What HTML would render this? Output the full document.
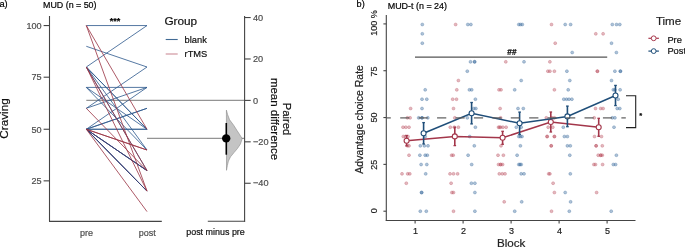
<!DOCTYPE html>
<html><head><meta charset="utf-8"><style>
html,body{margin:0;padding:0;background:#fff;}
body{width:685px;height:247px;overflow:hidden;}
svg{display:block;font-family:"Liberation Sans", sans-serif;will-change:transform;}
</style></head><body>
<svg width="685" height="247" viewBox="0 0 685 247">
<text x="-0.6" y="6.8" font-size="9.3" fill="#000" text-anchor="start" font-weight="normal" stroke="#000" stroke-width="0.2">a)</text>
<text x="43.0" y="7.5" font-size="8.9" fill="#000" text-anchor="start" font-weight="normal" stroke="#000" stroke-width="0.2">MUD (n = 50)</text>
<line x1="49.5" y1="16.0" x2="49.5" y2="221.5" stroke="#444" stroke-width="1.1"/>
<line x1="49" y1="221.4" x2="161.8" y2="221.4" stroke="#444" stroke-width="1.1"/>
<line x1="43.6" y1="25.56" x2="49.5" y2="25.56" stroke="#444" stroke-width="1.1"/>
<text x="41.6" y="28.81" font-size="9.1" fill="#4d4d4d" text-anchor="end" font-weight="normal" stroke="#4d4d4d" stroke-width="0.2">100</text>
<line x1="43.6" y1="77.20" x2="49.5" y2="77.20" stroke="#444" stroke-width="1.1"/>
<text x="41.6" y="80.45" font-size="9.1" fill="#4d4d4d" text-anchor="end" font-weight="normal" stroke="#4d4d4d" stroke-width="0.2">75</text>
<line x1="43.6" y1="129.25" x2="49.5" y2="129.25" stroke="#444" stroke-width="1.1"/>
<text x="41.6" y="132.5" font-size="9.1" fill="#4d4d4d" text-anchor="end" font-weight="normal" stroke="#4d4d4d" stroke-width="0.2">50</text>
<line x1="43.6" y1="180.85" x2="49.5" y2="180.85" stroke="#444" stroke-width="1.1"/>
<text x="41.6" y="184.1" font-size="9.1" fill="#4d4d4d" text-anchor="end" font-weight="normal" stroke="#4d4d4d" stroke-width="0.2">25</text>
<text x="0" y="0" font-size="11.7" fill="#111" text-anchor="middle" font-weight="normal" stroke="#111" stroke-width="0.2" transform="translate(8.3,118.5) rotate(-90)">Craving</text>
<text x="86.4" y="235.8" font-size="9" fill="#4d4d4d" text-anchor="middle" font-weight="normal" stroke="#4d4d4d" stroke-width="0.2">pre</text>
<text x="147.2" y="235.8" font-size="9" fill="#4d4d4d" text-anchor="middle" font-weight="normal" stroke="#4d4d4d" stroke-width="0.2">post</text>
<line x1="86.3" y1="100.3" x2="244.6" y2="100.3" stroke="#6a6a6a" stroke-width="0.9"/>
<line x1="147.0" y1="138.3" x2="244.6" y2="138.3" stroke="#6a6a6a" stroke-width="0.9"/>
<line x1="86.3" y1="25.56" x2="147.0" y2="25.56" stroke="#2f5a8e" stroke-width="0.95" stroke-opacity="0.86"/>
<line x1="86.3" y1="46.30" x2="147.0" y2="67.00" stroke="#2f5a8e" stroke-width="0.95" stroke-opacity="0.86"/>
<line x1="86.3" y1="67.00" x2="147.0" y2="25.56" stroke="#2f5a8e" stroke-width="0.95" stroke-opacity="0.86"/>
<line x1="86.3" y1="67.00" x2="147.0" y2="170.60" stroke="#2f5a8e" stroke-width="0.95" stroke-opacity="0.86"/>
<line x1="86.3" y1="67.00" x2="147.0" y2="150.00" stroke="#2f5a8e" stroke-width="0.95" stroke-opacity="0.86"/>
<line x1="86.3" y1="67.00" x2="147.0" y2="129.25" stroke="#2f5a8e" stroke-width="0.95" stroke-opacity="0.86"/>
<line x1="86.3" y1="67.00" x2="147.0" y2="129.25" stroke="#2f5a8e" stroke-width="0.95" stroke-opacity="0.86"/>
<line x1="86.3" y1="87.40" x2="147.0" y2="87.40" stroke="#2f5a8e" stroke-width="0.95" stroke-opacity="0.86"/>
<line x1="86.3" y1="87.40" x2="147.0" y2="150.00" stroke="#2f5a8e" stroke-width="0.95" stroke-opacity="0.86"/>
<line x1="86.3" y1="87.40" x2="147.0" y2="129.25" stroke="#2f5a8e" stroke-width="0.95" stroke-opacity="0.86"/>
<line x1="86.3" y1="108.30" x2="147.0" y2="67.00" stroke="#2f5a8e" stroke-width="0.95" stroke-opacity="0.86"/>
<line x1="86.3" y1="108.30" x2="147.0" y2="87.40" stroke="#2f5a8e" stroke-width="0.95" stroke-opacity="0.86"/>
<line x1="86.3" y1="129.25" x2="147.0" y2="108.30" stroke="#2f5a8e" stroke-width="0.95" stroke-opacity="0.86"/>
<line x1="86.3" y1="129.25" x2="147.0" y2="108.30" stroke="#2f5a8e" stroke-width="0.95" stroke-opacity="0.86"/>
<line x1="86.3" y1="129.25" x2="147.0" y2="87.40" stroke="#2f5a8e" stroke-width="0.95" stroke-opacity="0.86"/>
<line x1="86.3" y1="129.25" x2="147.0" y2="129.25" stroke="#2f5a8e" stroke-width="0.95" stroke-opacity="0.86"/>
<line x1="86.3" y1="129.25" x2="147.0" y2="129.25" stroke="#2f5a8e" stroke-width="0.95" stroke-opacity="0.86"/>
<line x1="86.3" y1="129.25" x2="147.0" y2="191.10" stroke="#363f74" stroke-width="0.95" stroke-opacity="0.86"/>
<line x1="86.3" y1="129.25" x2="147.0" y2="191.10" stroke="#363f74" stroke-width="0.95" stroke-opacity="0.86"/>
<line x1="86.3" y1="129.25" x2="147.0" y2="191.10" stroke="#363f74" stroke-width="0.95" stroke-opacity="0.86"/>
<line x1="86.3" y1="129.25" x2="147.0" y2="170.60" stroke="#363f74" stroke-width="0.95" stroke-opacity="0.86"/>
<line x1="86.3" y1="129.25" x2="147.0" y2="170.60" stroke="#363f74" stroke-width="0.95" stroke-opacity="0.86"/>
<line x1="86.3" y1="129.25" x2="147.0" y2="170.60" stroke="#363f74" stroke-width="0.95" stroke-opacity="0.86"/>
<line x1="86.3" y1="25.56" x2="147.0" y2="191.10" stroke="#9a3444" stroke-width="0.95" stroke-opacity="0.86"/>
<line x1="86.3" y1="25.56" x2="147.0" y2="129.25" stroke="#9a3444" stroke-width="0.95" stroke-opacity="0.86"/>
<line x1="86.3" y1="67.00" x2="147.0" y2="191.10" stroke="#9a3444" stroke-width="0.95" stroke-opacity="0.86"/>
<line x1="86.3" y1="67.00" x2="147.0" y2="170.60" stroke="#9a3444" stroke-width="0.95" stroke-opacity="0.86"/>
<line x1="86.3" y1="108.30" x2="147.0" y2="170.60" stroke="#9a3444" stroke-width="0.95" stroke-opacity="0.86"/>
<line x1="86.3" y1="129.25" x2="147.0" y2="150.00" stroke="#9a3444" stroke-width="0.95" stroke-opacity="0.86"/>
<line x1="86.3" y1="129.25" x2="147.0" y2="150.00" stroke="#9a3444" stroke-width="0.95" stroke-opacity="0.86"/>
<line x1="86.3" y1="129.25" x2="147.0" y2="211.60" stroke="#9a3444" stroke-width="0.95" stroke-opacity="0.86"/>
<text x="115.1" y="23.6" font-size="9" fill="#000" text-anchor="middle" font-weight="bold" stroke="#000" stroke-width="0.2">***</text>
<text x="164.4" y="24.8" font-size="11.8" fill="#111" text-anchor="start" font-weight="normal" stroke="#111" stroke-width="0.2">Group</text>
<line x1="165.7" y1="39.5" x2="177.7" y2="39.5" stroke="#416a94" stroke-width="1.1"/>
<line x1="165.7" y1="54.0" x2="177.7" y2="54.0" stroke="#dcb0b8" stroke-width="1.6"/>
<text x="184.6" y="42.8" font-size="9.3" fill="#111" text-anchor="start" font-weight="normal" stroke="#111" stroke-width="0.2">blank</text>
<text x="184.6" y="56.6" font-size="9.3" fill="#111" text-anchor="start" font-weight="normal" stroke="#111" stroke-width="0.2">rTMS</text>
<line x1="244.6" y1="16.1" x2="244.6" y2="221.8" stroke="#444" stroke-width="1.1"/>
<line x1="207.8" y1="221.3" x2="245.1" y2="221.3" stroke="#444" stroke-width="1.1"/>
<line x1="244.6" y1="17.54" x2="250.7" y2="17.54" stroke="#444" stroke-width="1.1"/>
<text x="253.0" y="20.640000000000008" font-size="9.2" fill="#4d4d4d" text-anchor="start" font-weight="normal" stroke="#4d4d4d" stroke-width="0.2">40</text>
<line x1="244.6" y1="58.97" x2="250.7" y2="58.97" stroke="#444" stroke-width="1.1"/>
<text x="253.0" y="62.07000000000001" font-size="9.2" fill="#4d4d4d" text-anchor="start" font-weight="normal" stroke="#4d4d4d" stroke-width="0.2">20</text>
<line x1="244.6" y1="100.40" x2="250.7" y2="100.40" stroke="#444" stroke-width="1.1"/>
<text x="253.0" y="103.5" font-size="9.2" fill="#4d4d4d" text-anchor="start" font-weight="normal" stroke="#4d4d4d" stroke-width="0.2">0</text>
<line x1="244.6" y1="141.83" x2="250.7" y2="141.83" stroke="#444" stroke-width="1.1"/>
<text x="253.0" y="144.93" font-size="9.2" fill="#4d4d4d" text-anchor="start" font-weight="normal" stroke="#4d4d4d" stroke-width="0.2">−20</text>
<line x1="244.6" y1="183.26" x2="250.7" y2="183.26" stroke="#444" stroke-width="1.1"/>
<text x="253.0" y="186.35999999999999" font-size="9.2" fill="#4d4d4d" text-anchor="start" font-weight="normal" stroke="#4d4d4d" stroke-width="0.2">−40</text>
<text font-size="11.3" fill="#111" stroke="#111" stroke-width="0.2" text-anchor="middle" transform="translate(283.3,119) rotate(90)"><tspan x="0" y="0">Paired</tspan><tspan x="0" y="12.7" font-size="11.5">mean difference</tspan></text>
<text x="215.5" y="235.3" font-size="8.95" fill="#111" text-anchor="middle" font-weight="normal" stroke="#111" stroke-width="0.2">post minus pre</text>
<path d="M226.4,110.1 L227.5,114.3 L229.6,119.8 L233.7,125.3 L237.2,130.8 L239.9,134.9 L242,138.4 L241.8,139.8 L240.4,144.1 L237.6,148.3 L234,152.6 L230.5,156.8 L228.4,161.1 L227.4,165.3 L226.5,170.3 Z" fill="#c4c4c4" stroke="#8a8a8a" stroke-width="0.6"/>
<line x1="226.3" y1="123" x2="226.3" y2="154.7" stroke="#000" stroke-width="1.6"/>
<circle cx="226.2" cy="138.4" r="4.2" fill="#000"/>
<text x="356.6" y="6.7" font-size="9.2" fill="#000" text-anchor="start" font-weight="normal" stroke="#000" stroke-width="0.2">b)</text>
<text x="387.7" y="8.8" font-size="8.95" fill="#000" text-anchor="start" font-weight="normal" stroke="#000" stroke-width="0.2">MUD-t (n = 24)</text>
<line x1="386.3" y1="14.9" x2="386.3" y2="221" stroke="#444" stroke-width="1.1"/>
<line x1="385.8" y1="220.5" x2="635.5" y2="220.5" stroke="#444" stroke-width="1.1"/>
<line x1="383.4" y1="23.90" x2="386.3" y2="23.90" stroke="#444" stroke-width="1.1"/>
<text x="0" y="0" font-size="9" fill="#222" text-anchor="middle" font-weight="normal" stroke="#222" stroke-width="0.2" transform="translate(377.2,22.90) rotate(-90)">100 %</text>
<line x1="383.4" y1="70.72" x2="386.3" y2="70.72" stroke="#444" stroke-width="1.1"/>
<text x="0" y="0" font-size="9" fill="#222" text-anchor="middle" font-weight="normal" stroke="#222" stroke-width="0.2" transform="translate(377.2,71.52) rotate(-90)">75</text>
<line x1="383.4" y1="117.55" x2="386.3" y2="117.55" stroke="#444" stroke-width="1.1"/>
<text x="0" y="0" font-size="9" fill="#222" text-anchor="middle" font-weight="normal" stroke="#222" stroke-width="0.2" transform="translate(377.2,117.55) rotate(-90)">50</text>
<line x1="383.4" y1="164.38" x2="386.3" y2="164.38" stroke="#444" stroke-width="1.1"/>
<text x="0" y="0" font-size="9" fill="#222" text-anchor="middle" font-weight="normal" stroke="#222" stroke-width="0.2" transform="translate(377.2,164.78) rotate(-90)">25</text>
<line x1="383.4" y1="211.20" x2="386.3" y2="211.20" stroke="#444" stroke-width="1.1"/>
<text x="0" y="0" font-size="9" fill="#222" text-anchor="middle" font-weight="normal" stroke="#222" stroke-width="0.2" transform="translate(377.2,210.70) rotate(-90)">0</text>
<line x1="415.1" y1="220.5" x2="415.1" y2="223.4" stroke="#444" stroke-width="1.1"/>
<text x="415.40000000000003" y="233.5" font-size="9" fill="#222" text-anchor="middle" font-weight="normal" stroke="#222" stroke-width="0.2">1</text>
<line x1="463.1" y1="220.5" x2="463.1" y2="223.4" stroke="#444" stroke-width="1.1"/>
<text x="463.40000000000003" y="233.5" font-size="9" fill="#222" text-anchor="middle" font-weight="normal" stroke="#222" stroke-width="0.2">2</text>
<line x1="511.1" y1="220.5" x2="511.1" y2="223.4" stroke="#444" stroke-width="1.1"/>
<text x="511.40000000000003" y="233.5" font-size="9" fill="#222" text-anchor="middle" font-weight="normal" stroke="#222" stroke-width="0.2">3</text>
<line x1="559.1" y1="220.5" x2="559.1" y2="223.4" stroke="#444" stroke-width="1.1"/>
<text x="559.4" y="233.5" font-size="9" fill="#222" text-anchor="middle" font-weight="normal" stroke="#222" stroke-width="0.2">4</text>
<line x1="607.1" y1="220.5" x2="607.1" y2="223.4" stroke="#444" stroke-width="1.1"/>
<text x="607.4" y="233.5" font-size="9" fill="#222" text-anchor="middle" font-weight="normal" stroke="#222" stroke-width="0.2">5</text>
<text x="511.2" y="246.5" font-size="11.6" fill="#222" text-anchor="middle" font-weight="normal" stroke="#222" stroke-width="0.2">Block</text>
<text x="0" y="0" font-size="10.5" fill="#222" text-anchor="middle" font-weight="normal" stroke="#222" stroke-width="0.2" transform="translate(363.1,119.4) rotate(-90)">Advantage choice Rate</text>
<line x1="415" y1="57.1" x2="607.2" y2="57.1" stroke="#555" stroke-width="1.2"/>
<text x="511.9" y="54.6" font-size="8.2" fill="#000" text-anchor="middle" font-weight="bold" stroke="#000" stroke-width="0.2">##</text>
<path d="M626,95.7 L635.7,95.7 L635.7,127.6 L626,127.6" fill="none" stroke="#222" stroke-width="1.1"/>
<text x="640.7" y="117.6" font-size="7.5" fill="#000" text-anchor="middle" font-weight="bold" stroke="#000" stroke-width="0.2">*</text>
<text x="655.9" y="24.6" font-size="11.6" fill="#222" text-anchor="start" font-weight="normal" stroke="#222" stroke-width="0.2">Time</text>
<line x1="648.4" y1="38.3" x2="658.9" y2="38.3" stroke="#a8394d" stroke-width="1.2"/>
<circle cx="653.7" cy="38.3" r="2.4" fill="#fff" stroke="#a8394d" stroke-width="1"/>
<line x1="648.4" y1="51.1" x2="658.9" y2="51.1" stroke="#1f4e79" stroke-width="1.2"/>
<circle cx="653.7" cy="51.1" r="2.4" fill="#fff" stroke="#1f4e79" stroke-width="1"/>
<text x="667.4" y="42.9" font-size="9.3" fill="#111" text-anchor="start" font-weight="normal" stroke="#111" stroke-width="0.2">Pre</text>
<text x="667.4" y="53.6" font-size="9.3" fill="#111" text-anchor="start" font-weight="normal" stroke="#111" stroke-width="0.2">Post</text>
<circle cx="422.3" cy="24.50" r="1.5" fill="#37699b" fill-opacity="0.4" stroke="#37699b" stroke-opacity="0.42" stroke-width="0.7"/>
<circle cx="467.8" cy="24.50" r="1.5" fill="#37699b" fill-opacity="0.4" stroke="#37699b" stroke-opacity="0.42" stroke-width="0.7"/>
<circle cx="470.9" cy="24.50" r="1.5" fill="#37699b" fill-opacity="0.4" stroke="#37699b" stroke-opacity="0.42" stroke-width="0.7"/>
<circle cx="455.6" cy="24.50" r="1.5" fill="#b9505f" fill-opacity="0.4" stroke="#b9505f" stroke-opacity="0.42" stroke-width="0.7"/>
<circle cx="422.3" cy="33.83" r="1.5" fill="#37699b" fill-opacity="0.4" stroke="#37699b" stroke-opacity="0.42" stroke-width="0.7"/>
<circle cx="422.3" cy="43.17" r="1.5" fill="#37699b" fill-opacity="0.4" stroke="#37699b" stroke-opacity="0.42" stroke-width="0.7"/>
<circle cx="470.5" cy="61.84" r="1.5" fill="#37699b" fill-opacity="0.4" stroke="#37699b" stroke-opacity="0.42" stroke-width="0.7"/>
<circle cx="474.6" cy="61.84" r="1.5" fill="#37699b" fill-opacity="0.4" stroke="#37699b" stroke-opacity="0.42" stroke-width="0.7"/>
<circle cx="474.6" cy="61.84" r="1.5" fill="#37699b" fill-opacity="0.4" stroke="#37699b" stroke-opacity="0.42" stroke-width="0.7"/>
<circle cx="467.3" cy="71.17" r="1.5" fill="#37699b" fill-opacity="0.4" stroke="#37699b" stroke-opacity="0.42" stroke-width="0.7"/>
<circle cx="458.4" cy="80.51" r="1.5" fill="#b9505f" fill-opacity="0.4" stroke="#b9505f" stroke-opacity="0.42" stroke-width="0.7"/>
<circle cx="425.2" cy="89.84" r="1.5" fill="#37699b" fill-opacity="0.4" stroke="#37699b" stroke-opacity="0.42" stroke-width="0.7"/>
<circle cx="469.4" cy="89.84" r="1.5" fill="#37699b" fill-opacity="0.4" stroke="#37699b" stroke-opacity="0.42" stroke-width="0.7"/>
<circle cx="471.7" cy="89.84" r="1.5" fill="#37699b" fill-opacity="0.4" stroke="#37699b" stroke-opacity="0.42" stroke-width="0.7"/>
<circle cx="456.8" cy="89.84" r="1.5" fill="#b9505f" fill-opacity="0.4" stroke="#b9505f" stroke-opacity="0.42" stroke-width="0.7"/>
<circle cx="422" cy="99.18" r="1.5" fill="#37699b" fill-opacity="0.4" stroke="#37699b" stroke-opacity="0.42" stroke-width="0.7"/>
<circle cx="426.8" cy="99.18" r="1.5" fill="#37699b" fill-opacity="0.4" stroke="#37699b" stroke-opacity="0.42" stroke-width="0.7"/>
<circle cx="475.4" cy="99.18" r="1.5" fill="#37699b" fill-opacity="0.4" stroke="#37699b" stroke-opacity="0.42" stroke-width="0.7"/>
<circle cx="452.7" cy="99.18" r="1.5" fill="#b9505f" fill-opacity="0.4" stroke="#b9505f" stroke-opacity="0.42" stroke-width="0.7"/>
<circle cx="456.5" cy="99.18" r="1.5" fill="#b9505f" fill-opacity="0.4" stroke="#b9505f" stroke-opacity="0.42" stroke-width="0.7"/>
<circle cx="410.6" cy="108.51" r="1.5" fill="#b9505f" fill-opacity="0.4" stroke="#b9505f" stroke-opacity="0.42" stroke-width="0.7"/>
<circle cx="453.5" cy="108.51" r="1.5" fill="#b9505f" fill-opacity="0.4" stroke="#b9505f" stroke-opacity="0.42" stroke-width="0.7"/>
<circle cx="422" cy="108.51" r="1.5" fill="#37699b" fill-opacity="0.4" stroke="#37699b" stroke-opacity="0.42" stroke-width="0.7"/>
<circle cx="473.8" cy="108.51" r="1.5" fill="#37699b" fill-opacity="0.4" stroke="#37699b" stroke-opacity="0.42" stroke-width="0.7"/>
<circle cx="475.9" cy="108.51" r="1.5" fill="#37699b" fill-opacity="0.4" stroke="#37699b" stroke-opacity="0.42" stroke-width="0.7"/>
<circle cx="407.4" cy="117.85" r="1.5" fill="#b9505f" fill-opacity="0.4" stroke="#b9505f" stroke-opacity="0.42" stroke-width="0.7"/>
<circle cx="410.1" cy="117.85" r="1.5" fill="#b9505f" fill-opacity="0.4" stroke="#b9505f" stroke-opacity="0.42" stroke-width="0.7"/>
<circle cx="454.8" cy="117.85" r="1.5" fill="#b9505f" fill-opacity="0.4" stroke="#b9505f" stroke-opacity="0.42" stroke-width="0.7"/>
<circle cx="418.7" cy="117.85" r="1.5" fill="#37699b" fill-opacity="0.4" stroke="#37699b" stroke-opacity="0.42" stroke-width="0.7"/>
<circle cx="422" cy="117.85" r="1.5" fill="#37699b" fill-opacity="0.4" stroke="#37699b" stroke-opacity="0.42" stroke-width="0.7"/>
<circle cx="422" cy="117.85" r="1.5" fill="#37699b" fill-opacity="0.4" stroke="#37699b" stroke-opacity="0.42" stroke-width="0.7"/>
<circle cx="427.8" cy="117.85" r="1.5" fill="#37699b" fill-opacity="0.4" stroke="#37699b" stroke-opacity="0.42" stroke-width="0.7"/>
<circle cx="467.3" cy="117.85" r="1.5" fill="#37699b" fill-opacity="0.4" stroke="#37699b" stroke-opacity="0.42" stroke-width="0.7"/>
<circle cx="403" cy="127.18" r="1.5" fill="#b9505f" fill-opacity="0.4" stroke="#b9505f" stroke-opacity="0.42" stroke-width="0.7"/>
<circle cx="405.8" cy="127.18" r="1.5" fill="#b9505f" fill-opacity="0.4" stroke="#b9505f" stroke-opacity="0.42" stroke-width="0.7"/>
<circle cx="409" cy="127.18" r="1.5" fill="#b9505f" fill-opacity="0.4" stroke="#b9505f" stroke-opacity="0.42" stroke-width="0.7"/>
<circle cx="450.3" cy="127.18" r="1.5" fill="#b9505f" fill-opacity="0.4" stroke="#b9505f" stroke-opacity="0.42" stroke-width="0.7"/>
<circle cx="454.3" cy="127.18" r="1.5" fill="#b9505f" fill-opacity="0.4" stroke="#b9505f" stroke-opacity="0.42" stroke-width="0.7"/>
<circle cx="458.4" cy="127.18" r="1.5" fill="#b9505f" fill-opacity="0.4" stroke="#b9505f" stroke-opacity="0.42" stroke-width="0.7"/>
<circle cx="475.4" cy="127.18" r="1.5" fill="#37699b" fill-opacity="0.4" stroke="#37699b" stroke-opacity="0.42" stroke-width="0.7"/>
<circle cx="403.3" cy="136.52" r="1.5" fill="#b9505f" fill-opacity="0.4" stroke="#b9505f" stroke-opacity="0.42" stroke-width="0.7"/>
<circle cx="405.5" cy="136.52" r="1.5" fill="#b9505f" fill-opacity="0.4" stroke="#b9505f" stroke-opacity="0.42" stroke-width="0.7"/>
<circle cx="408" cy="136.52" r="1.5" fill="#b9505f" fill-opacity="0.4" stroke="#b9505f" stroke-opacity="0.42" stroke-width="0.7"/>
<circle cx="425.2" cy="136.52" r="1.5" fill="#37699b" fill-opacity="0.4" stroke="#37699b" stroke-opacity="0.42" stroke-width="0.7"/>
<circle cx="469.7" cy="136.52" r="1.5" fill="#37699b" fill-opacity="0.4" stroke="#37699b" stroke-opacity="0.42" stroke-width="0.7"/>
<circle cx="407.4" cy="145.85" r="1.5" fill="#b9505f" fill-opacity="0.4" stroke="#b9505f" stroke-opacity="0.42" stroke-width="0.7"/>
<circle cx="409" cy="145.85" r="1.5" fill="#b9505f" fill-opacity="0.4" stroke="#b9505f" stroke-opacity="0.42" stroke-width="0.7"/>
<circle cx="420.3" cy="145.85" r="1.5" fill="#37699b" fill-opacity="0.4" stroke="#37699b" stroke-opacity="0.42" stroke-width="0.7"/>
<circle cx="424.4" cy="145.85" r="1.5" fill="#37699b" fill-opacity="0.4" stroke="#37699b" stroke-opacity="0.42" stroke-width="0.7"/>
<circle cx="428" cy="145.85" r="1.5" fill="#37699b" fill-opacity="0.4" stroke="#37699b" stroke-opacity="0.42" stroke-width="0.7"/>
<circle cx="474.3" cy="145.85" r="1.5" fill="#37699b" fill-opacity="0.4" stroke="#37699b" stroke-opacity="0.42" stroke-width="0.7"/>
<circle cx="409" cy="155.19" r="1.5" fill="#b9505f" fill-opacity="0.4" stroke="#b9505f" stroke-opacity="0.42" stroke-width="0.7"/>
<circle cx="451.6" cy="155.19" r="1.5" fill="#b9505f" fill-opacity="0.4" stroke="#b9505f" stroke-opacity="0.42" stroke-width="0.7"/>
<circle cx="453.2" cy="155.19" r="1.5" fill="#b9505f" fill-opacity="0.4" stroke="#b9505f" stroke-opacity="0.42" stroke-width="0.7"/>
<circle cx="419.9" cy="155.19" r="1.5" fill="#37699b" fill-opacity="0.4" stroke="#37699b" stroke-opacity="0.42" stroke-width="0.7"/>
<circle cx="425.2" cy="155.19" r="1.5" fill="#37699b" fill-opacity="0.4" stroke="#37699b" stroke-opacity="0.42" stroke-width="0.7"/>
<circle cx="427.3" cy="155.19" r="1.5" fill="#37699b" fill-opacity="0.4" stroke="#37699b" stroke-opacity="0.42" stroke-width="0.7"/>
<circle cx="468.1" cy="155.19" r="1.5" fill="#37699b" fill-opacity="0.4" stroke="#37699b" stroke-opacity="0.42" stroke-width="0.7"/>
<circle cx="421.1" cy="164.52" r="1.5" fill="#37699b" fill-opacity="0.4" stroke="#37699b" stroke-opacity="0.42" stroke-width="0.7"/>
<circle cx="426.8" cy="164.52" r="1.5" fill="#37699b" fill-opacity="0.4" stroke="#37699b" stroke-opacity="0.42" stroke-width="0.7"/>
<circle cx="471.7" cy="164.52" r="1.5" fill="#37699b" fill-opacity="0.4" stroke="#37699b" stroke-opacity="0.42" stroke-width="0.7"/>
<circle cx="402" cy="173.86" r="1.5" fill="#b9505f" fill-opacity="0.4" stroke="#b9505f" stroke-opacity="0.42" stroke-width="0.7"/>
<circle cx="407.7" cy="173.86" r="1.5" fill="#b9505f" fill-opacity="0.4" stroke="#b9505f" stroke-opacity="0.42" stroke-width="0.7"/>
<circle cx="409.8" cy="173.86" r="1.5" fill="#b9505f" fill-opacity="0.4" stroke="#b9505f" stroke-opacity="0.42" stroke-width="0.7"/>
<circle cx="450" cy="173.86" r="1.5" fill="#b9505f" fill-opacity="0.4" stroke="#b9505f" stroke-opacity="0.42" stroke-width="0.7"/>
<circle cx="453.5" cy="173.86" r="1.5" fill="#b9505f" fill-opacity="0.4" stroke="#b9505f" stroke-opacity="0.42" stroke-width="0.7"/>
<circle cx="457.6" cy="173.86" r="1.5" fill="#b9505f" fill-opacity="0.4" stroke="#b9505f" stroke-opacity="0.42" stroke-width="0.7"/>
<circle cx="425.7" cy="173.86" r="1.5" fill="#37699b" fill-opacity="0.4" stroke="#37699b" stroke-opacity="0.42" stroke-width="0.7"/>
<circle cx="406.3" cy="183.19" r="1.5" fill="#b9505f" fill-opacity="0.4" stroke="#b9505f" stroke-opacity="0.42" stroke-width="0.7"/>
<circle cx="451.1" cy="183.19" r="1.5" fill="#b9505f" fill-opacity="0.4" stroke="#b9505f" stroke-opacity="0.42" stroke-width="0.7"/>
<circle cx="471.4" cy="183.19" r="1.5" fill="#37699b" fill-opacity="0.4" stroke="#37699b" stroke-opacity="0.42" stroke-width="0.7"/>
<circle cx="474.9" cy="183.19" r="1.5" fill="#37699b" fill-opacity="0.4" stroke="#37699b" stroke-opacity="0.42" stroke-width="0.7"/>
<circle cx="421.6" cy="192.53" r="1.5" fill="#37699b" fill-opacity="0.4" stroke="#37699b" stroke-opacity="0.42" stroke-width="0.7"/>
<circle cx="421.6" cy="192.53" r="1.5" fill="#37699b" fill-opacity="0.4" stroke="#37699b" stroke-opacity="0.42" stroke-width="0.7"/>
<circle cx="474.9" cy="192.53" r="1.5" fill="#37699b" fill-opacity="0.4" stroke="#37699b" stroke-opacity="0.42" stroke-width="0.7"/>
<circle cx="451.9" cy="192.53" r="1.5" fill="#b9505f" fill-opacity="0.4" stroke="#b9505f" stroke-opacity="0.42" stroke-width="0.7"/>
<circle cx="453.5" cy="192.53" r="1.5" fill="#b9505f" fill-opacity="0.4" stroke="#b9505f" stroke-opacity="0.42" stroke-width="0.7"/>
<circle cx="420.3" cy="211.20" r="1.5" fill="#37699b" fill-opacity="0.4" stroke="#37699b" stroke-opacity="0.42" stroke-width="0.7"/>
<circle cx="426.3" cy="211.20" r="1.5" fill="#37699b" fill-opacity="0.4" stroke="#37699b" stroke-opacity="0.42" stroke-width="0.7"/>
<circle cx="474.9" cy="211.20" r="1.5" fill="#37699b" fill-opacity="0.4" stroke="#37699b" stroke-opacity="0.42" stroke-width="0.7"/>
<circle cx="453.5" cy="211.20" r="1.5" fill="#b9505f" fill-opacity="0.4" stroke="#b9505f" stroke-opacity="0.42" stroke-width="0.7"/>
<circle cx="518.8" cy="24.50" r="1.5" fill="#37699b" fill-opacity="0.4" stroke="#37699b" stroke-opacity="0.42" stroke-width="0.7"/>
<circle cx="520.5" cy="24.50" r="1.5" fill="#37699b" fill-opacity="0.4" stroke="#37699b" stroke-opacity="0.42" stroke-width="0.7"/>
<circle cx="522.3" cy="24.50" r="1.5" fill="#37699b" fill-opacity="0.4" stroke="#37699b" stroke-opacity="0.42" stroke-width="0.7"/>
<circle cx="565.2" cy="24.50" r="1.5" fill="#37699b" fill-opacity="0.4" stroke="#37699b" stroke-opacity="0.42" stroke-width="0.7"/>
<circle cx="570.6" cy="24.50" r="1.5" fill="#37699b" fill-opacity="0.4" stroke="#37699b" stroke-opacity="0.42" stroke-width="0.7"/>
<circle cx="551.5" cy="24.50" r="1.5" fill="#b9505f" fill-opacity="0.4" stroke="#b9505f" stroke-opacity="0.42" stroke-width="0.7"/>
<circle cx="555.2" cy="43.17" r="1.5" fill="#b9505f" fill-opacity="0.4" stroke="#b9505f" stroke-opacity="0.42" stroke-width="0.7"/>
<circle cx="572.2" cy="52.50" r="1.5" fill="#37699b" fill-opacity="0.4" stroke="#37699b" stroke-opacity="0.42" stroke-width="0.7"/>
<circle cx="505.8" cy="61.84" r="1.5" fill="#b9505f" fill-opacity="0.4" stroke="#b9505f" stroke-opacity="0.42" stroke-width="0.7"/>
<circle cx="549.9" cy="61.84" r="1.5" fill="#b9505f" fill-opacity="0.4" stroke="#b9505f" stroke-opacity="0.42" stroke-width="0.7"/>
<circle cx="524" cy="61.84" r="1.5" fill="#37699b" fill-opacity="0.4" stroke="#37699b" stroke-opacity="0.42" stroke-width="0.7"/>
<circle cx="547.9" cy="71.17" r="1.5" fill="#b9505f" fill-opacity="0.4" stroke="#b9505f" stroke-opacity="0.42" stroke-width="0.7"/>
<circle cx="549.9" cy="71.17" r="1.5" fill="#b9505f" fill-opacity="0.4" stroke="#b9505f" stroke-opacity="0.42" stroke-width="0.7"/>
<circle cx="554.4" cy="71.17" r="1.5" fill="#b9505f" fill-opacity="0.4" stroke="#b9505f" stroke-opacity="0.42" stroke-width="0.7"/>
<circle cx="566.9" cy="71.17" r="1.5" fill="#37699b" fill-opacity="0.4" stroke="#37699b" stroke-opacity="0.42" stroke-width="0.7"/>
<circle cx="521.2" cy="80.51" r="1.5" fill="#37699b" fill-opacity="0.4" stroke="#37699b" stroke-opacity="0.42" stroke-width="0.7"/>
<circle cx="569.8" cy="80.51" r="1.5" fill="#37699b" fill-opacity="0.4" stroke="#37699b" stroke-opacity="0.42" stroke-width="0.7"/>
<circle cx="499" cy="89.84" r="1.5" fill="#b9505f" fill-opacity="0.4" stroke="#b9505f" stroke-opacity="0.42" stroke-width="0.7"/>
<circle cx="501" cy="89.84" r="1.5" fill="#b9505f" fill-opacity="0.4" stroke="#b9505f" stroke-opacity="0.42" stroke-width="0.7"/>
<circle cx="554.4" cy="89.84" r="1.5" fill="#b9505f" fill-opacity="0.4" stroke="#b9505f" stroke-opacity="0.42" stroke-width="0.7"/>
<circle cx="514.7" cy="89.84" r="1.5" fill="#37699b" fill-opacity="0.4" stroke="#37699b" stroke-opacity="0.42" stroke-width="0.7"/>
<circle cx="568.2" cy="89.84" r="1.5" fill="#37699b" fill-opacity="0.4" stroke="#37699b" stroke-opacity="0.42" stroke-width="0.7"/>
<circle cx="563.8" cy="99.18" r="1.5" fill="#37699b" fill-opacity="0.4" stroke="#37699b" stroke-opacity="0.42" stroke-width="0.7"/>
<circle cx="566.5" cy="99.18" r="1.5" fill="#37699b" fill-opacity="0.4" stroke="#37699b" stroke-opacity="0.42" stroke-width="0.7"/>
<circle cx="569" cy="99.18" r="1.5" fill="#37699b" fill-opacity="0.4" stroke="#37699b" stroke-opacity="0.42" stroke-width="0.7"/>
<circle cx="571.9" cy="99.18" r="1.5" fill="#37699b" fill-opacity="0.4" stroke="#37699b" stroke-opacity="0.42" stroke-width="0.7"/>
<circle cx="500.1" cy="108.51" r="1.5" fill="#b9505f" fill-opacity="0.4" stroke="#b9505f" stroke-opacity="0.42" stroke-width="0.7"/>
<circle cx="518" cy="108.51" r="1.5" fill="#37699b" fill-opacity="0.4" stroke="#37699b" stroke-opacity="0.42" stroke-width="0.7"/>
<circle cx="523.3" cy="108.51" r="1.5" fill="#37699b" fill-opacity="0.4" stroke="#37699b" stroke-opacity="0.42" stroke-width="0.7"/>
<circle cx="500.6" cy="117.85" r="1.5" fill="#b9505f" fill-opacity="0.4" stroke="#b9505f" stroke-opacity="0.42" stroke-width="0.7"/>
<circle cx="546.3" cy="117.85" r="1.5" fill="#b9505f" fill-opacity="0.4" stroke="#b9505f" stroke-opacity="0.42" stroke-width="0.7"/>
<circle cx="552" cy="117.85" r="1.5" fill="#b9505f" fill-opacity="0.4" stroke="#b9505f" stroke-opacity="0.42" stroke-width="0.7"/>
<circle cx="554.4" cy="117.85" r="1.5" fill="#b9505f" fill-opacity="0.4" stroke="#b9505f" stroke-opacity="0.42" stroke-width="0.7"/>
<circle cx="498.5" cy="127.18" r="1.5" fill="#b9505f" fill-opacity="0.4" stroke="#b9505f" stroke-opacity="0.42" stroke-width="0.7"/>
<circle cx="500.6" cy="127.18" r="1.5" fill="#b9505f" fill-opacity="0.4" stroke="#b9505f" stroke-opacity="0.42" stroke-width="0.7"/>
<circle cx="502.9" cy="127.18" r="1.5" fill="#b9505f" fill-opacity="0.4" stroke="#b9505f" stroke-opacity="0.42" stroke-width="0.7"/>
<circle cx="506.1" cy="127.18" r="1.5" fill="#b9505f" fill-opacity="0.4" stroke="#b9505f" stroke-opacity="0.42" stroke-width="0.7"/>
<circle cx="548.2" cy="127.18" r="1.5" fill="#b9505f" fill-opacity="0.4" stroke="#b9505f" stroke-opacity="0.42" stroke-width="0.7"/>
<circle cx="552.8" cy="127.18" r="1.5" fill="#b9505f" fill-opacity="0.4" stroke="#b9505f" stroke-opacity="0.42" stroke-width="0.7"/>
<circle cx="516.3" cy="127.18" r="1.5" fill="#37699b" fill-opacity="0.4" stroke="#37699b" stroke-opacity="0.42" stroke-width="0.7"/>
<circle cx="521.2" cy="127.18" r="1.5" fill="#37699b" fill-opacity="0.4" stroke="#37699b" stroke-opacity="0.42" stroke-width="0.7"/>
<circle cx="563.3" cy="127.18" r="1.5" fill="#37699b" fill-opacity="0.4" stroke="#37699b" stroke-opacity="0.42" stroke-width="0.7"/>
<circle cx="502.6" cy="136.52" r="1.5" fill="#b9505f" fill-opacity="0.4" stroke="#b9505f" stroke-opacity="0.42" stroke-width="0.7"/>
<circle cx="547.1" cy="136.52" r="1.5" fill="#b9505f" fill-opacity="0.4" stroke="#b9505f" stroke-opacity="0.42" stroke-width="0.7"/>
<circle cx="554.4" cy="136.52" r="1.5" fill="#b9505f" fill-opacity="0.4" stroke="#b9505f" stroke-opacity="0.42" stroke-width="0.7"/>
<circle cx="518.8" cy="136.52" r="1.5" fill="#37699b" fill-opacity="0.4" stroke="#37699b" stroke-opacity="0.42" stroke-width="0.7"/>
<circle cx="522" cy="136.52" r="1.5" fill="#37699b" fill-opacity="0.4" stroke="#37699b" stroke-opacity="0.42" stroke-width="0.7"/>
<circle cx="564.4" cy="136.52" r="1.5" fill="#37699b" fill-opacity="0.4" stroke="#37699b" stroke-opacity="0.42" stroke-width="0.7"/>
<circle cx="567.4" cy="136.52" r="1.5" fill="#37699b" fill-opacity="0.4" stroke="#37699b" stroke-opacity="0.42" stroke-width="0.7"/>
<circle cx="501" cy="145.85" r="1.5" fill="#b9505f" fill-opacity="0.4" stroke="#b9505f" stroke-opacity="0.42" stroke-width="0.7"/>
<circle cx="551.2" cy="145.85" r="1.5" fill="#b9505f" fill-opacity="0.4" stroke="#b9505f" stroke-opacity="0.42" stroke-width="0.7"/>
<circle cx="520.4" cy="145.85" r="1.5" fill="#37699b" fill-opacity="0.4" stroke="#37699b" stroke-opacity="0.42" stroke-width="0.7"/>
<circle cx="567.4" cy="145.85" r="1.5" fill="#37699b" fill-opacity="0.4" stroke="#37699b" stroke-opacity="0.42" stroke-width="0.7"/>
<circle cx="570.3" cy="145.85" r="1.5" fill="#37699b" fill-opacity="0.4" stroke="#37699b" stroke-opacity="0.42" stroke-width="0.7"/>
<circle cx="498" cy="155.19" r="1.5" fill="#b9505f" fill-opacity="0.4" stroke="#b9505f" stroke-opacity="0.42" stroke-width="0.7"/>
<circle cx="503.4" cy="155.19" r="1.5" fill="#b9505f" fill-opacity="0.4" stroke="#b9505f" stroke-opacity="0.42" stroke-width="0.7"/>
<circle cx="517.1" cy="155.19" r="1.5" fill="#37699b" fill-opacity="0.4" stroke="#37699b" stroke-opacity="0.42" stroke-width="0.7"/>
<circle cx="569.8" cy="155.19" r="1.5" fill="#37699b" fill-opacity="0.4" stroke="#37699b" stroke-opacity="0.42" stroke-width="0.7"/>
<circle cx="498.5" cy="164.52" r="1.5" fill="#b9505f" fill-opacity="0.4" stroke="#b9505f" stroke-opacity="0.42" stroke-width="0.7"/>
<circle cx="500.6" cy="164.52" r="1.5" fill="#b9505f" fill-opacity="0.4" stroke="#b9505f" stroke-opacity="0.42" stroke-width="0.7"/>
<circle cx="502.6" cy="164.52" r="1.5" fill="#b9505f" fill-opacity="0.4" stroke="#b9505f" stroke-opacity="0.42" stroke-width="0.7"/>
<circle cx="518.8" cy="164.52" r="1.5" fill="#37699b" fill-opacity="0.4" stroke="#37699b" stroke-opacity="0.42" stroke-width="0.7"/>
<circle cx="521.2" cy="164.52" r="1.5" fill="#37699b" fill-opacity="0.4" stroke="#37699b" stroke-opacity="0.42" stroke-width="0.7"/>
<circle cx="499.3" cy="173.86" r="1.5" fill="#b9505f" fill-opacity="0.4" stroke="#b9505f" stroke-opacity="0.42" stroke-width="0.7"/>
<circle cx="502.3" cy="173.86" r="1.5" fill="#b9505f" fill-opacity="0.4" stroke="#b9505f" stroke-opacity="0.42" stroke-width="0.7"/>
<circle cx="505" cy="173.86" r="1.5" fill="#b9505f" fill-opacity="0.4" stroke="#b9505f" stroke-opacity="0.42" stroke-width="0.7"/>
<circle cx="548.7" cy="173.86" r="1.5" fill="#b9505f" fill-opacity="0.4" stroke="#b9505f" stroke-opacity="0.42" stroke-width="0.7"/>
<circle cx="549.9" cy="173.86" r="1.5" fill="#b9505f" fill-opacity="0.4" stroke="#b9505f" stroke-opacity="0.42" stroke-width="0.7"/>
<circle cx="521.2" cy="173.86" r="1.5" fill="#37699b" fill-opacity="0.4" stroke="#37699b" stroke-opacity="0.42" stroke-width="0.7"/>
<circle cx="524" cy="173.86" r="1.5" fill="#37699b" fill-opacity="0.4" stroke="#37699b" stroke-opacity="0.42" stroke-width="0.7"/>
<circle cx="570.3" cy="173.86" r="1.5" fill="#37699b" fill-opacity="0.4" stroke="#37699b" stroke-opacity="0.42" stroke-width="0.7"/>
<circle cx="553.1" cy="183.19" r="1.5" fill="#b9505f" fill-opacity="0.4" stroke="#b9505f" stroke-opacity="0.42" stroke-width="0.7"/>
<circle cx="554.4" cy="192.53" r="1.5" fill="#b9505f" fill-opacity="0.4" stroke="#b9505f" stroke-opacity="0.42" stroke-width="0.7"/>
<circle cx="565.2" cy="192.53" r="1.5" fill="#37699b" fill-opacity="0.4" stroke="#37699b" stroke-opacity="0.42" stroke-width="0.7"/>
<circle cx="504.2" cy="201.86" r="1.5" fill="#b9505f" fill-opacity="0.4" stroke="#b9505f" stroke-opacity="0.42" stroke-width="0.7"/>
<circle cx="521.7" cy="201.86" r="1.5" fill="#37699b" fill-opacity="0.4" stroke="#37699b" stroke-opacity="0.42" stroke-width="0.7"/>
<circle cx="570.6" cy="201.86" r="1.5" fill="#37699b" fill-opacity="0.4" stroke="#37699b" stroke-opacity="0.42" stroke-width="0.7"/>
<circle cx="514.7" cy="211.20" r="1.5" fill="#37699b" fill-opacity="0.4" stroke="#37699b" stroke-opacity="0.42" stroke-width="0.7"/>
<circle cx="569.3" cy="211.20" r="1.5" fill="#37699b" fill-opacity="0.4" stroke="#37699b" stroke-opacity="0.42" stroke-width="0.7"/>
<circle cx="551.5" cy="211.20" r="1.5" fill="#b9505f" fill-opacity="0.4" stroke="#b9505f" stroke-opacity="0.42" stroke-width="0.7"/>
<circle cx="520.4" cy="136.52" r="1.5" fill="#37699b" fill-opacity="0.4" stroke="#37699b" stroke-opacity="0.42" stroke-width="0.7"/>
<circle cx="520" cy="164.52" r="1.5" fill="#37699b" fill-opacity="0.4" stroke="#37699b" stroke-opacity="0.42" stroke-width="0.7"/>
<circle cx="600.7" cy="155.19" r="1.5" fill="#b9505f" fill-opacity="0.4" stroke="#b9505f" stroke-opacity="0.42" stroke-width="0.7"/>
<circle cx="547.1" cy="136.52" r="1.5" fill="#b9505f" fill-opacity="0.4" stroke="#b9505f" stroke-opacity="0.42" stroke-width="0.7"/>
<circle cx="554.4" cy="136.52" r="1.5" fill="#b9505f" fill-opacity="0.4" stroke="#b9505f" stroke-opacity="0.42" stroke-width="0.7"/>
<circle cx="551.2" cy="145.85" r="1.5" fill="#b9505f" fill-opacity="0.4" stroke="#b9505f" stroke-opacity="0.42" stroke-width="0.7"/>
<circle cx="499.5" cy="127.18" r="1.5" fill="#b9505f" fill-opacity="0.4" stroke="#b9505f" stroke-opacity="0.42" stroke-width="0.7"/>
<circle cx="500.6" cy="164.52" r="1.5" fill="#b9505f" fill-opacity="0.4" stroke="#b9505f" stroke-opacity="0.42" stroke-width="0.7"/>
<circle cx="612.3" cy="24.50" r="1.5" fill="#37699b" fill-opacity="0.4" stroke="#37699b" stroke-opacity="0.42" stroke-width="0.7"/>
<circle cx="616.5" cy="24.50" r="1.5" fill="#37699b" fill-opacity="0.4" stroke="#37699b" stroke-opacity="0.42" stroke-width="0.7"/>
<circle cx="619.8" cy="24.50" r="1.5" fill="#37699b" fill-opacity="0.4" stroke="#37699b" stroke-opacity="0.42" stroke-width="0.7"/>
<circle cx="595.8" cy="33.83" r="1.5" fill="#b9505f" fill-opacity="0.4" stroke="#b9505f" stroke-opacity="0.42" stroke-width="0.7"/>
<circle cx="603.1" cy="33.83" r="1.5" fill="#b9505f" fill-opacity="0.4" stroke="#b9505f" stroke-opacity="0.42" stroke-width="0.7"/>
<circle cx="611.5" cy="43.17" r="1.5" fill="#37699b" fill-opacity="0.4" stroke="#37699b" stroke-opacity="0.42" stroke-width="0.7"/>
<circle cx="616.4" cy="52.50" r="1.5" fill="#37699b" fill-opacity="0.4" stroke="#37699b" stroke-opacity="0.42" stroke-width="0.7"/>
<circle cx="597.4" cy="71.17" r="1.5" fill="#b9505f" fill-opacity="0.4" stroke="#b9505f" stroke-opacity="0.42" stroke-width="0.7"/>
<circle cx="597.4" cy="71.17" r="1.5" fill="#b9505f" fill-opacity="0.4" stroke="#b9505f" stroke-opacity="0.42" stroke-width="0.7"/>
<circle cx="614.9" cy="71.17" r="1.5" fill="#37699b" fill-opacity="0.4" stroke="#37699b" stroke-opacity="0.42" stroke-width="0.7"/>
<circle cx="620.4" cy="71.17" r="1.5" fill="#37699b" fill-opacity="0.4" stroke="#37699b" stroke-opacity="0.42" stroke-width="0.7"/>
<circle cx="620.4" cy="71.17" r="1.5" fill="#37699b" fill-opacity="0.4" stroke="#37699b" stroke-opacity="0.42" stroke-width="0.7"/>
<circle cx="611.5" cy="80.51" r="1.5" fill="#37699b" fill-opacity="0.4" stroke="#37699b" stroke-opacity="0.42" stroke-width="0.7"/>
<circle cx="613.3" cy="89.84" r="1.5" fill="#37699b" fill-opacity="0.4" stroke="#37699b" stroke-opacity="0.42" stroke-width="0.7"/>
<circle cx="614.9" cy="89.84" r="1.5" fill="#37699b" fill-opacity="0.4" stroke="#37699b" stroke-opacity="0.42" stroke-width="0.7"/>
<circle cx="620.1" cy="89.84" r="1.5" fill="#37699b" fill-opacity="0.4" stroke="#37699b" stroke-opacity="0.42" stroke-width="0.7"/>
<circle cx="618.2" cy="99.18" r="1.5" fill="#37699b" fill-opacity="0.4" stroke="#37699b" stroke-opacity="0.42" stroke-width="0.7"/>
<circle cx="595.5" cy="108.51" r="1.5" fill="#b9505f" fill-opacity="0.4" stroke="#b9505f" stroke-opacity="0.42" stroke-width="0.7"/>
<circle cx="600.7" cy="108.51" r="1.5" fill="#b9505f" fill-opacity="0.4" stroke="#b9505f" stroke-opacity="0.42" stroke-width="0.7"/>
<circle cx="603.1" cy="108.51" r="1.5" fill="#b9505f" fill-opacity="0.4" stroke="#b9505f" stroke-opacity="0.42" stroke-width="0.7"/>
<circle cx="617.2" cy="108.51" r="1.5" fill="#37699b" fill-opacity="0.4" stroke="#37699b" stroke-opacity="0.42" stroke-width="0.7"/>
<circle cx="619.8" cy="108.51" r="1.5" fill="#37699b" fill-opacity="0.4" stroke="#37699b" stroke-opacity="0.42" stroke-width="0.7"/>
<circle cx="594.2" cy="117.85" r="1.5" fill="#b9505f" fill-opacity="0.4" stroke="#b9505f" stroke-opacity="0.42" stroke-width="0.7"/>
<circle cx="612.3" cy="117.85" r="1.5" fill="#37699b" fill-opacity="0.4" stroke="#37699b" stroke-opacity="0.42" stroke-width="0.7"/>
<circle cx="614.9" cy="117.85" r="1.5" fill="#37699b" fill-opacity="0.4" stroke="#37699b" stroke-opacity="0.42" stroke-width="0.7"/>
<circle cx="614" cy="127.18" r="1.5" fill="#37699b" fill-opacity="0.4" stroke="#37699b" stroke-opacity="0.42" stroke-width="0.7"/>
<circle cx="594.5" cy="136.52" r="1.5" fill="#b9505f" fill-opacity="0.4" stroke="#b9505f" stroke-opacity="0.42" stroke-width="0.7"/>
<circle cx="601.5" cy="136.52" r="1.5" fill="#b9505f" fill-opacity="0.4" stroke="#b9505f" stroke-opacity="0.42" stroke-width="0.7"/>
<circle cx="596.1" cy="145.85" r="1.5" fill="#b9505f" fill-opacity="0.4" stroke="#b9505f" stroke-opacity="0.42" stroke-width="0.7"/>
<circle cx="596.1" cy="145.85" r="1.5" fill="#b9505f" fill-opacity="0.4" stroke="#b9505f" stroke-opacity="0.42" stroke-width="0.7"/>
<circle cx="602.3" cy="145.85" r="1.5" fill="#b9505f" fill-opacity="0.4" stroke="#b9505f" stroke-opacity="0.42" stroke-width="0.7"/>
<circle cx="598.2" cy="155.19" r="1.5" fill="#b9505f" fill-opacity="0.4" stroke="#b9505f" stroke-opacity="0.42" stroke-width="0.7"/>
<circle cx="600.7" cy="155.19" r="1.5" fill="#b9505f" fill-opacity="0.4" stroke="#b9505f" stroke-opacity="0.42" stroke-width="0.7"/>
<circle cx="602.3" cy="155.19" r="1.5" fill="#b9505f" fill-opacity="0.4" stroke="#b9505f" stroke-opacity="0.42" stroke-width="0.7"/>
<circle cx="616.4" cy="155.19" r="1.5" fill="#37699b" fill-opacity="0.4" stroke="#37699b" stroke-opacity="0.42" stroke-width="0.7"/>
<circle cx="593.9" cy="164.52" r="1.5" fill="#b9505f" fill-opacity="0.4" stroke="#b9505f" stroke-opacity="0.42" stroke-width="0.7"/>
<circle cx="595.5" cy="164.52" r="1.5" fill="#b9505f" fill-opacity="0.4" stroke="#b9505f" stroke-opacity="0.42" stroke-width="0.7"/>
<circle cx="602.6" cy="164.52" r="1.5" fill="#b9505f" fill-opacity="0.4" stroke="#b9505f" stroke-opacity="0.42" stroke-width="0.7"/>
<circle cx="613.3" cy="164.52" r="1.5" fill="#37699b" fill-opacity="0.4" stroke="#37699b" stroke-opacity="0.42" stroke-width="0.7"/>
<circle cx="615.6" cy="164.52" r="1.5" fill="#37699b" fill-opacity="0.4" stroke="#37699b" stroke-opacity="0.42" stroke-width="0.7"/>
<circle cx="596.6" cy="192.53" r="1.5" fill="#b9505f" fill-opacity="0.4" stroke="#b9505f" stroke-opacity="0.42" stroke-width="0.7"/>
<circle cx="611.2" cy="211.20" r="1.5" fill="#37699b" fill-opacity="0.4" stroke="#37699b" stroke-opacity="0.42" stroke-width="0.7"/>
<polyline points="406.6,140.7 454.8,136.4 502.6,137.8 550.8,122 598.7,127.3" fill="none" stroke="#a3364a" stroke-width="1.5"/>
<line x1="406.6" y1="135.5" x2="406.6" y2="145.89999999999998" stroke="#a3364a" stroke-width="1.6"/>
<line x1="405.3" y1="135.5" x2="407.90000000000003" y2="135.5" stroke="#a3364a" stroke-width="1.3"/>
<line x1="405.3" y1="145.89999999999998" x2="407.90000000000003" y2="145.89999999999998" stroke="#a3364a" stroke-width="1.3"/>
<line x1="454.8" y1="127.2" x2="454.8" y2="145.6" stroke="#a3364a" stroke-width="1.6"/>
<line x1="453.5" y1="127.2" x2="456.1" y2="127.2" stroke="#a3364a" stroke-width="1.3"/>
<line x1="453.5" y1="145.6" x2="456.1" y2="145.6" stroke="#a3364a" stroke-width="1.3"/>
<line x1="502.6" y1="131.3" x2="502.6" y2="144.3" stroke="#a3364a" stroke-width="1.6"/>
<line x1="501.3" y1="131.3" x2="503.90000000000003" y2="131.3" stroke="#a3364a" stroke-width="1.3"/>
<line x1="501.3" y1="144.3" x2="503.90000000000003" y2="144.3" stroke="#a3364a" stroke-width="1.3"/>
<line x1="550.8" y1="112" x2="550.8" y2="132" stroke="#a3364a" stroke-width="1.6"/>
<line x1="549.5" y1="112" x2="552.0999999999999" y2="112" stroke="#a3364a" stroke-width="1.3"/>
<line x1="549.5" y1="132" x2="552.0999999999999" y2="132" stroke="#a3364a" stroke-width="1.3"/>
<line x1="598.7" y1="118.3" x2="598.7" y2="136.3" stroke="#a3364a" stroke-width="1.6"/>
<line x1="597.4000000000001" y1="118.3" x2="600.0" y2="118.3" stroke="#a3364a" stroke-width="1.3"/>
<line x1="597.4000000000001" y1="136.3" x2="600.0" y2="136.3" stroke="#a3364a" stroke-width="1.3"/>
<circle cx="406.6" cy="140.7" r="2.5" fill="#fff" stroke="#a3364a" stroke-width="1.1"/>
<circle cx="454.8" cy="136.4" r="2.5" fill="#fff" stroke="#a3364a" stroke-width="1.1"/>
<circle cx="502.6" cy="137.8" r="2.5" fill="#fff" stroke="#a3364a" stroke-width="1.1"/>
<circle cx="550.8" cy="122" r="2.5" fill="#fff" stroke="#a3364a" stroke-width="1.1"/>
<circle cx="598.7" cy="127.3" r="2.5" fill="#fff" stroke="#a3364a" stroke-width="1.1"/>
<polyline points="423.6,133.3 471.6,113.2 519.6,123.3 567.4,116.4 615.5,95.5" fill="none" stroke="#1f4e79" stroke-width="1.5"/>
<line x1="423.6" y1="122.60000000000001" x2="423.6" y2="144.0" stroke="#1f4e79" stroke-width="1.6"/>
<line x1="422.3" y1="122.60000000000001" x2="424.90000000000003" y2="122.60000000000001" stroke="#1f4e79" stroke-width="1.3"/>
<line x1="422.3" y1="144.0" x2="424.90000000000003" y2="144.0" stroke="#1f4e79" stroke-width="1.3"/>
<line x1="471.6" y1="102.5" x2="471.6" y2="123.9" stroke="#1f4e79" stroke-width="1.6"/>
<line x1="470.3" y1="102.5" x2="472.90000000000003" y2="102.5" stroke="#1f4e79" stroke-width="1.3"/>
<line x1="470.3" y1="123.9" x2="472.90000000000003" y2="123.9" stroke="#1f4e79" stroke-width="1.3"/>
<line x1="519.6" y1="112.1" x2="519.6" y2="134.5" stroke="#1f4e79" stroke-width="1.6"/>
<line x1="518.3000000000001" y1="112.1" x2="520.9" y2="112.1" stroke="#1f4e79" stroke-width="1.3"/>
<line x1="518.3000000000001" y1="134.5" x2="520.9" y2="134.5" stroke="#1f4e79" stroke-width="1.3"/>
<line x1="567.4" y1="106.10000000000001" x2="567.4" y2="126.7" stroke="#1f4e79" stroke-width="1.6"/>
<line x1="566.1" y1="106.10000000000001" x2="568.6999999999999" y2="106.10000000000001" stroke="#1f4e79" stroke-width="1.3"/>
<line x1="566.1" y1="126.7" x2="568.6999999999999" y2="126.7" stroke="#1f4e79" stroke-width="1.3"/>
<line x1="615.5" y1="85.4" x2="615.5" y2="105.6" stroke="#1f4e79" stroke-width="1.6"/>
<line x1="614.2" y1="85.4" x2="616.8" y2="85.4" stroke="#1f4e79" stroke-width="1.3"/>
<line x1="614.2" y1="105.6" x2="616.8" y2="105.6" stroke="#1f4e79" stroke-width="1.3"/>
<circle cx="423.6" cy="133.3" r="2.5" fill="#fff" stroke="#1f4e79" stroke-width="1.1"/>
<circle cx="471.6" cy="113.2" r="2.5" fill="#fff" stroke="#1f4e79" stroke-width="1.1"/>
<circle cx="519.6" cy="123.3" r="2.5" fill="#fff" stroke="#1f4e79" stroke-width="1.1"/>
<circle cx="567.4" cy="116.4" r="2.5" fill="#fff" stroke="#1f4e79" stroke-width="1.1"/>
<circle cx="615.5" cy="95.5" r="2.5" fill="#fff" stroke="#1f4e79" stroke-width="1.1"/>
<line x1="386.30" y1="117.9" x2="390.80" y2="117.9" stroke="#5a5a5a" stroke-width="1.2"/>
<line x1="400.20" y1="117.9" x2="409.40" y2="117.9" stroke="#5a5a5a" stroke-width="1.2"/>
<line x1="418.63" y1="117.9" x2="427.83" y2="117.9" stroke="#5a5a5a" stroke-width="1.2"/>
<line x1="437.06" y1="117.9" x2="446.26" y2="117.9" stroke="#5a5a5a" stroke-width="1.2"/>
<line x1="455.49" y1="117.9" x2="464.69" y2="117.9" stroke="#5a5a5a" stroke-width="1.2"/>
<line x1="473.92" y1="117.9" x2="483.12" y2="117.9" stroke="#5a5a5a" stroke-width="1.2"/>
<line x1="492.35" y1="117.9" x2="501.55" y2="117.9" stroke="#5a5a5a" stroke-width="1.2"/>
<line x1="510.78" y1="117.9" x2="519.98" y2="117.9" stroke="#5a5a5a" stroke-width="1.2"/>
<line x1="529.21" y1="117.9" x2="538.41" y2="117.9" stroke="#5a5a5a" stroke-width="1.2"/>
<line x1="547.64" y1="117.9" x2="556.84" y2="117.9" stroke="#5a5a5a" stroke-width="1.2"/>
<line x1="566.07" y1="117.9" x2="575.27" y2="117.9" stroke="#5a5a5a" stroke-width="1.2"/>
<line x1="584.50" y1="117.9" x2="593.70" y2="117.9" stroke="#5a5a5a" stroke-width="1.2"/>
<line x1="602.93" y1="117.9" x2="612.13" y2="117.9" stroke="#5a5a5a" stroke-width="1.2"/>
<line x1="621.36" y1="117.9" x2="625.80" y2="117.9" stroke="#5a5a5a" stroke-width="1.2"/>
</svg>
</body></html>
